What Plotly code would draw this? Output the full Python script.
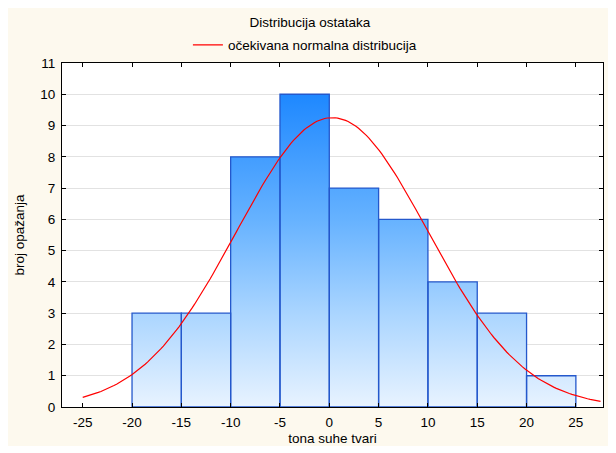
import numpy as np
import plotly.graph_objects as go

# histogram of residuals
bin_edges = [-20, -15, -10, -5, 0, 5, 10, 15, 20, 25]
counts = [3, 3, 8, 10, 7, 6, 4, 3, 1]

# expected normal distribution parameters
n_obs = sum(counts)
bin_width = 5
mean = 0.3
sd = 9.7
curve_from, curve_to = -25, 27.5

x_ticks = [-25, -20, -15, -10, -5, 0, 5, 10, 15, 20, 25]
x_labels = ["-25", "-20", "-15", "-10", "-5", "0", "5", "10", "15", "20", "25"]
y_ticks = list(range(0, 12))

fig = go.Figure()

# bars as filled polygons so they can carry a vertical gradient
bx, by = [], []
for i, c in enumerate(counts):
    x0, x1 = bin_edges[i], bin_edges[i + 1]
    bx += [x0, x0, x1, x1, x0, None]
    by += [0, c, c, 0, 0, None]

fig.add_trace(go.Scatter(
    x=bx, y=by,
    mode="lines",
    fill="toself",
    fillgradient=dict(
        type="vertical",
        colorscale=[[0, "#e8f3ff"], [0.3, "#aad5ff"], [0.6, "#66b2ff"], [1, "#1e88ff"]],
        start=0, stop=10,
    ),
    line=dict(color="#2458cc", width=1.3),
    showlegend=False,
    hoverinfo="skip",
))

xs = np.linspace(curve_from, curve_to, 200)
ys = n_obs * bin_width / (sd * np.sqrt(2 * np.pi)) * np.exp(-(xs - mean) ** 2 / (2 * sd ** 2))
fig.add_trace(go.Scatter(
    x=xs, y=ys,
    mode="lines",
    line=dict(color="#ff0000", width=1.2),
    name="očekivana normalna distribucija",
))

FS = 13.5

# the page body adds an 8px white border, so the figure itself is a bit smaller
fig.update_layout(
    width=605, height=438,
    margin=dict(l=54, r=10, t=55, b=39, autoexpand=False),
    paper_bgcolor="#fdf9ee",
    plot_bgcolor="white",
    font=dict(family="Liberation Sans, Arial, sans-serif", size=FS, color="black"),
    title=dict(text="Distribucija ostataka", x=0.499, xanchor="center",
               y=1 - 14 / 438, yanchor="middle", font=dict(size=FS)),
    legend=dict(orientation="h", x=0.449, xanchor="center", y=1 + 18 / 344, yanchor="middle",
                bgcolor="rgba(0,0,0,0)", font=dict(size=FS)),
)

fig.update_xaxes(
    range=[-27.1, 27.75],
    tickvals=x_ticks, ticktext=x_labels, tickfont=dict(size=FS),
    ticks="inside", ticklen=4, tickcolor="black", ticklabelstandoff=3,
    showline=True, linecolor="black", linewidth=1.2, mirror="ticks",
    showgrid=False, zeroline=False,
    title=dict(text="tona suhe tvari", standoff=6, font=dict(size=FS)),
)
fig.update_yaxes(
    range=[0, 11],
    tickvals=y_ticks, tickfont=dict(size=FS),
    ticks="inside", ticklen=4, tickcolor="black", ticklabelstandoff=3,
    showline=True, linecolor="black", linewidth=1.2, mirror="ticks",
    showgrid=True, gridcolor="#e2e2e2", gridwidth=1, zeroline=False,
    title=dict(text="broj opažanja", standoff=12, font=dict(size=FS)),
)

fig.write_html("out.html")
